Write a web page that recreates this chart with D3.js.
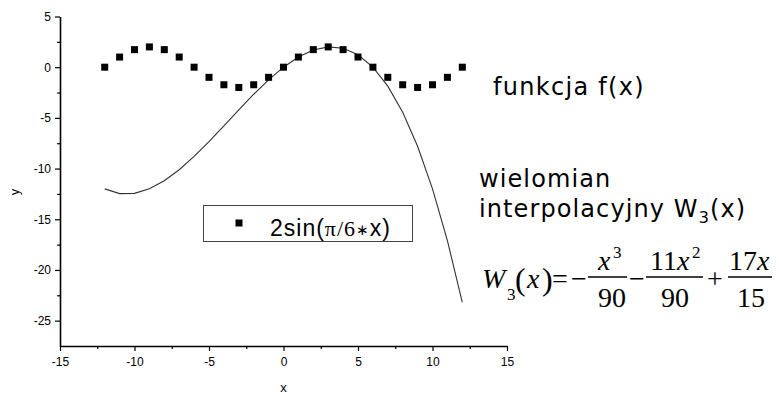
<!DOCTYPE html>
<html>
<head>
<meta charset="utf-8">
<script src="https://cdn.jsdelivr.net/npm/d3@7"></script>
<style>
  html, body { margin: 0; padding: 0; background: #fff; }
  svg { display: block; }
  .axis text { font-family: Arial, "Liberation Sans", sans-serif; font-size: 12px; fill: #000; }
</style>
</head>
<body>
<svg id="chart" width="779" height="394"></svg>
<script>
// Sample points x = -12 .. 12
const xValues = [-12,-11,-10,-9,-8,-7,-6,-5,-4,-3,-2,-1,0,1,2,3,4,5,6,7,8,9,10,11,12];
// f(x) = 2 sin(pi/6 * x)
const sineValues = [0,1,1.732,2,1.732,1,0,-1,-1.732,-2,-1.732,-1,0,1,1.732,2,1.732,1,0,-1,-1.732,-2,-1.732,-1,0];
// W3(x) = -x^3/90 - 11x^2/90 + 17x/15
const polyValues = [-12,-12.467,-12.444,-12,-11.2,-10.111,-8.8,-7.333,-5.778,-4.2,-2.667,-1.244,0,1,1.689,2,1.867,1.222,0,-1.867,-4.444,-7.8,-12,-17.111,-23.2];

const xMajorTicks = [-15,-10,-5,0,5,10,15];
const xMinorTicks = [-12.5,-7.5,-2.5,2.5,7.5,12.5];
const yMajorTicks = [-25,-20,-15,-10,-5,0,5];
const yMinorTicks = [-22.5,-17.5,-12.5,-7.5,-2.5,2.5];

const svg = d3.select("#chart");

const x = d3.scaleLinear().domain([-15, 15]).range([60, 507]);
const y = d3.scaleLinear().domain([-27.5, 5]).range([346, 16.5]);

// minor ticks
svg.append("g").attr("class", "axis").attr("transform", "translate(0,346)")
  .call(d3.axisBottom(x).tickValues(xMinorTicks).tickSize(3).tickFormat(""))
  .call(g => g.select(".domain").remove())
  .selectAll("line").attr("stroke-width", 1.2);
svg.append("g").attr("class", "axis").attr("transform", "translate(60,0)")
  .call(d3.axisLeft(y).tickValues(yMinorTicks).tickSize(3).tickFormat(""))
  .call(g => g.select(".domain").remove())
  .selectAll("line").attr("stroke-width", 1.2);

// major axes
const xAxis = svg.append("g").attr("class", "axis").attr("transform", "translate(0,346)")
  .call(d3.axisBottom(x).tickValues(xMajorTicks).tickSize(5).tickSizeOuter(0).tickPadding(6));
xAxis.select(".domain").attr("stroke-width", 1.6);
xAxis.selectAll(".tick line").attr("stroke-width", 1.2);
xAxis.selectAll("text").text(d => String(d));

const yAxis = svg.append("g").attr("class", "axis").attr("transform", "translate(60,0)")
  .call(d3.axisLeft(y).tickValues(yMajorTicks).tickSize(5).tickSizeOuter(0).tickPadding(4));
yAxis.select(".domain").attr("stroke-width", 1.6);
yAxis.selectAll(".tick line").attr("stroke-width", 1.2);
yAxis.selectAll("text").text(d => String(d));

// axis titles
svg.append("text").attr("x", x(0)).attr("y", 392).attr("text-anchor", "middle")
  .attr("font-family", "Arial, 'Liberation Sans', sans-serif").attr("font-size", 13).text("x");
svg.append("text").attr("transform", "translate(19,192) rotate(-90)").attr("text-anchor", "middle")
  .attr("font-family", "Arial, 'Liberation Sans', sans-serif").attr("font-size", 13).text("y");

// interpolating polynomial
const line = d3.line().x((d, i) => x(xValues[i])).y(d => y(d));
svg.append("path").datum(polyValues)
  .attr("d", line).attr("fill", "none").attr("stroke", "#333").attr("stroke-width", 1.1);

// function samples
const ms = 7;
svg.append("g").selectAll("rect").data(sineValues).join("rect")
  .attr("x", (d, i) => x(xValues[i]) - ms / 2)
  .attr("y", d => y(d) - ms / 2)
  .attr("width", ms).attr("height", ms).attr("fill", "#000");

// legend
const lg = svg.append("g");
lg.append("rect").attr("x", 203.5).attr("y", 205.5).attr("width", 209).attr("height", 36)
  .attr("fill", "#fff").attr("stroke", "#444").attr("stroke-width", 1);
lg.append("rect").attr("x", 239 - ms / 2).attr("y", 223 - ms / 2).attr("width", ms).attr("height", ms).attr("fill", "#000");
const lt = lg.append("text").attr("x", 270).attr("y", 236)
  .attr("font-family", "Arial, 'Liberation Sans', sans-serif").attr("font-size", 23)
  .attr("letter-spacing", 1.0);
lt.append("tspan").text("2sin(");
lt.append("tspan").attr("font-family", "'Liberation Serif', 'Times New Roman', serif").attr("font-size", 22).text("π/6");
lt.append("tspan").attr("font-family", "'DejaVu Sans', sans-serif").attr("font-size", 15).attr("dy", -1).text("∗");
lt.append("tspan").attr("dy", 1).text("x)");

// annotations
const sans = "'DejaVu Sans', Verdana, sans-serif";
svg.append("text").attr("x", 493).attr("y", 95).attr("font-family", sans).attr("font-size", 24)
  .attr("letter-spacing", 1.3).text("funkcja f(x)");
svg.append("text").attr("x", 479).attr("y", 187).attr("font-family", sans).attr("font-size", 24)
  .attr("letter-spacing", 1.1).text("wielomian");
const t2 = svg.append("text").attr("x", 479).attr("y", 217).attr("font-family", sans).attr("font-size", 24)
  .attr("letter-spacing", 1.1);
t2.append("tspan").text("interpolacyjny W");
t2.append("tspan").attr("font-size", 16).attr("dy", 6).text("3");
t2.append("tspan").attr("dy", -6).text("(x)");

// formula
const serif = "'Liberation Serif', 'Times New Roman', serif";
const eq = svg.append("g").attr("font-family", serif).attr("font-size", 28).attr("fill", "#000");
function put(tx, ty, s, opts = {}) {
  const t = eq.append("text").attr("x", tx).attr("y", ty).text(s);
  if (opts.italic) t.attr("font-style", "italic");
  if (opts.size) t.attr("font-size", opts.size);
  return t;
}
function bar(x1, x2, yy) {
  eq.append("line").attr("x1", x1).attr("x2", x2).attr("y1", yy).attr("y2", yy)
    .attr("stroke", "#000").attr("stroke-width", 1.3);
}
put(482, 288, "W", { italic: true });
put(507, 300, "3", { size: 17 });
put(515, 290, "(", { size: 32 });
put(527, 288, "x", { italic: true });
put(542, 290, ")", { size: 32 });
put(552, 288, "=");
put(571, 288, "−");
bar(588, 627, 277);
put(598, 270, "x", { italic: true });
put(613, 258, "3", { size: 17 });
put(598, 307, "90");
put(629, 288, "−");
bar(646, 703, 277);
put(650, 270, "11");
put(677, 270, "x", { italic: true });
put(692, 258, "2", { size: 17 });
put(661, 307, "90");
put(707, 288, "+");
bar(728, 772, 277);
put(729, 270, "17");
put(757, 270, "x", { italic: true });
put(737, 307, "15");
</script>
</body>
</html>
